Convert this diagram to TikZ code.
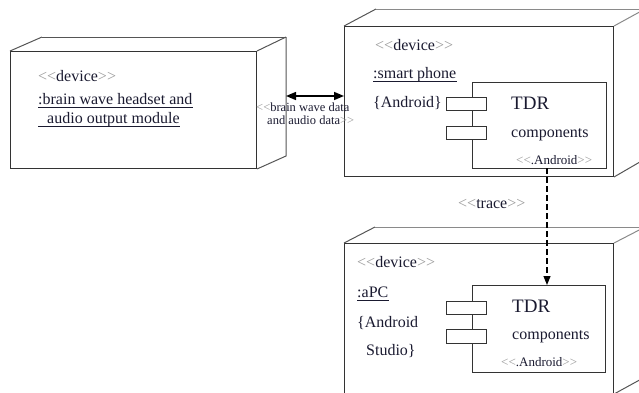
\documentclass[tikz,border=0pt]{standalone}
\usepackage{fontspec}
\setmainfont{Liberation Serif}
\usetikzlibrary{arrows.meta}
\definecolor{ink}{HTML}{1A1A30}
\definecolor{ltgray}{HTML}{9A9A9A}
\definecolor{edge}{HTML}{333333}
\definecolor{backedge}{HTML}{555555}
\definecolor{topedge}{HTML}{8A8A8A}
\newcommand{\LLt}{{\color{ltgray}<\kern0pt<}}
\newcommand{\RRt}{{\color{ltgray}>\kern0pt>}}
\begin{document}
\begin{tikzpicture}[x=1pt,y=-1pt,
  txt/.style={anchor=base west, inner sep=0pt, text=ink, font=\fontsize{16}{16}\selectfont},
  bigtxt/.style={txt, font=\fontsize{19}{19}\selectfont},
  smalltxt/.style={txt, font=\fontsize{13}{13}\selectfont},
  tinytxt/.style={txt, font=\fontsize{12.5}{12.5}\selectfont},
  front/.style={draw=edge, line width=1pt, anchor=north west, inner sep=0pt},
  back/.style={draw=backedge, line width=1pt},
  topback/.style={draw=topedge, line width=1pt},
  comp/.style={draw=edge, line width=0.9pt, fill=white, anchor=north west, inner sep=0pt},
  ul/.style={draw=ink, line width=0.7pt},
  dep/.style={draw=black, line width=1.1pt, dash pattern=on 6pt off 3pt, -{Triangle[length=9pt,width=7pt]}},
  comm/.style={draw=black, line width=1.5pt, {Triangle[length=10pt,width=8pt]}-{Triangle[length=10pt,width=8pt]}},
]
\useasboundingbox (0,0) rectangle (639,392);
\clip (0,0) rectangle (639,392);

% ---- left device: brain wave headset
\node[front, minimum width=246pt, minimum height=117pt] (bw) at (10,51) {};
\draw[back] (bw.north west) -- (42,37);
\draw[back] (42,37) -- (286,37);
\draw[back] (286,37) -- (286,156) -- (bw.south east);
\draw[back] (bw.north east) -- (286,37);
\node[txt] (bw1) at (38,81) {\LLt device\RRt};
\node[txt] (bw2) at (38,104) {:brain wave headset and};
\node[txt] (bw3) at (47,123) {audio output module};
\draw[ul] ([yshift=-3pt]bw2.base west) -- ([yshift=-3pt]bw2.base east);
\draw[ul] (38,126) -- ([yshift=-3pt]bw3.base east);

% ---- smart phone device
\node[front, minimum width=269pt, minimum height=150pt] (ph) at (344,26) {};
\draw[back] (ph.north west) -- (376,9);
\draw[topback] (376,9) -- (645,9);
\draw[topback] (ph.north east) -- (645,9);
\draw[back] (ph.south east) -- (645,159) -- (645,9);
\node[txt] (ph1) at (375,50) {\LLt device\RRt};
\node[txt] (ph2) at (373,78) {:smart phone};
\draw[ul] ([yshift=-3pt]ph2.base west) -- ([yshift=-3pt]ph2.base east);
\node[txt] (ph3) at (373,107) {\{Android\}};
\node[comp, minimum width=134pt, minimum height=86pt] (pc) at (472,82) {};
\node[comp, minimum width=40pt, minimum height=13pt] (pc1) at (446,97) {};
\node[comp, minimum width=40pt, minimum height=13pt] (pc2) at (446,126) {};
\node[bigtxt] (pct) at (511,109) {TDR};
\node[txt] (pcc) at (511,137) {components};
\node[smalltxt] (pca) at (516,164) {\LLt.Android\RRt};

% ---- communication path
\coordinate (bwback) at (286,96);
\draw[comm] (bwback) -- (bwback -| ph.west);
\node[tinytxt] (cl1) at (256,111) {\LLt brain wave data};
\node[tinytxt] (cl2) at (267,124) {and audio data\RRt};

% ---- aPC device
\node[front, minimum width=269pt, minimum height=150pt] (pcdev) at (344,243) {};
\draw[back] (pcdev.north west) -- (375,227);
\draw[topback] (375,227) -- (645,227);
\draw[topback] (pcdev.north east) -- (645,227);
\draw[back] (pcdev.south east) -- (645,377) -- (645,227);
\node[txt] (ap1) at (357,267) {\LLt device\RRt};
\node[txt] (ap2) at (357,297) {:aPC};
\draw[ul] ([yshift=-3pt]ap2.base west) -- ([yshift=-3pt]ap2.base east);
\node[txt] (ap3) at (357,327) {\{Android};
\node[txt] (ap4) at (366,355) {Studio\}};
\node[comp, minimum width=133pt, minimum height=87pt] (ac) at (472,285) {};
\node[comp, minimum width=40pt, minimum height=13pt] (ac1) at (446,301) {};
\node[comp, minimum width=40pt, minimum height=14pt] (ac2) at (446,329) {};
\node[bigtxt] (act) at (512,312) {TDR};
\node[txt] (acc) at (512,339) {components};
\node[smalltxt] (aca) at (501,366) {\LLt.Android\RRt};

% ---- trace dependency
\coordinate (tr) at (547,168);
\draw[dep] (tr) -- (tr |- ac.north);
\node[txt] (trl) at (458,208) {\LLt trace\RRt};
\end{tikzpicture}
\end{document}
